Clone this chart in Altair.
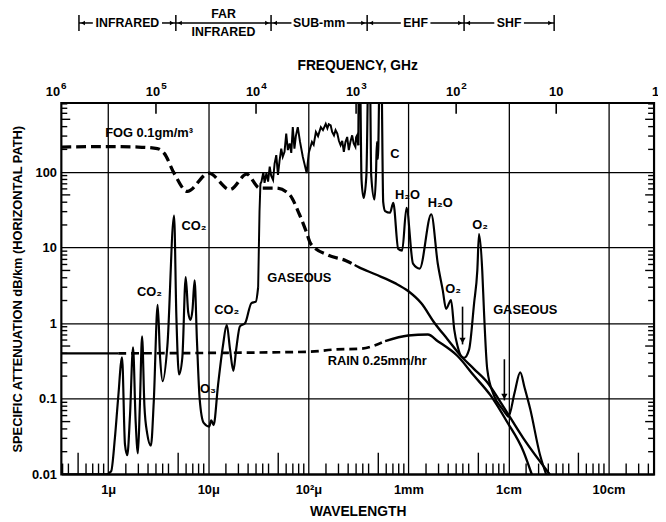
import json
import altair as alt
import pandas as pd

W, H = 600, 376
FONT = "Liberation Sans"

# ---------------- data (wavelength in micrometres, attenuation in dB/km) ----------------
# gaseous: infrared part (smooth peaks)
gas1_lam = [0.34, 0.95, 1.07, 1.165, 1.255, 1.375, 1.47, 1.55, 1.65, 1.77, 1.88, 1.98, 2.07, 2.18,
            2.3, 2.45, 2.67, 2.85, 3.12, 3.3, 3.5, 3.9, 4.55, 4.8, 5.1, 5.5, 5.95, 6.3, 6.65, 6.95,
            7.3, 7.7, 8.2, 9.0, 10.2, 10.7, 11.3, 12.5, 14.0, 15.3, 16.5, 17.8, 19.0, 20.7, 23.3,
            27.0, 29.9, 31.5]
gas1_val = [0.01, 0.01, 0.011, 0.03, 0.1, 0.355, 0.025, 0.018, 0.06, 0.48, 0.05, 0.019, 0.08, 0.67,
            0.08, 0.035, 0.024, 0.09, 1.75, 0.35, 0.171, 0.5, 26.6, 1.2, 0.21, 0.35, 4.1, 1.4, 1.11, 1.5,
            3.7, 0.6, 0.1, 0.048, 0.043, 0.052, 0.045, 0.15, 0.5, 0.95, 0.45, 0.235, 0.45, 0.91, 1.0,
            1.85, 1.93, 3.0]
# gaseous: far-infrared / sub-mm band of dense lines (jagged)
gas2_lam = [31.5, 32.5, 33.2, 34.0, 35.5, 36.5, 38.1, 39.6, 41.1, 42.5, 44.4, 46.0, 47.8, 49.7,
            51.5, 53.6, 55.5, 57.8, 60.1, 62.4, 65.0, 67.5, 69.9, 72.6, 75.0, 78.4, 82.6, 88.0,
            96.2, 101, 108.6, 113, 118.9, 125, 133.3, 140, 149.2, 155, 160, 167.2, 173, 180.3,
            187, 194.8, 202, 210, 218, 226.3, 235, 244.5, 253.6, 263, 274, 284, 295.3, 300,
            306.9, 312, 316]
gas2_val = [3.0, 30, 70, 75, 100, 72, 97, 75, 118, 90, 79, 130, 168, 92,
            140, 205, 160, 186, 323, 196, 240, 180, 394, 205, 300, 394, 251, 160,
            97, 180, 251, 230, 340, 300, 394, 360, 436, 380, 430, 415, 340, 307,
            360, 323, 260, 227, 260, 186, 250, 292, 196, 250, 307, 240, 216, 290,
            307, 250, 227]
# gaseous: mm / cm waves (rounded lines)
gas3_lam = [316, 319.5, 327, 340, 357, 380, 400, 411, 425, 458, 475, 484, 496, 518, 535, 560, 585,
            655, 706, 791, 866, 957, 1112, 1296, 1691, 1966, 2203, 2379, 2666, 2872, 3097, 3393,
            3607, 4045, 4532, 4883, 5075, 5468, 5684, 6133, 7146, 8630, 9665, 10000, 11500, 13110,
            14500, 16450, 20650, 23800]
gas3_val = [227, 3000, 3000, 80, 45.6, 90, 3000, 3000, 90, 43.4, 100, 250, 150, 3000, 3000, 40, 30.5,
            29, 39.2, 9.64, 9.16, 33.7, 6.14, 5.28, 27.7, 6.14, 2.75, 1.55, 2.03, 0.824, 0.499, 0.362,
            0.35, 0.452, 1.84, 5.02, 15.1, 5.0, 1.5, 0.248, 0.111, 0.0744, 0.0606, 0.058, 0.12, 0.224,
            0.14, 0.0744, 0.0182, 0.01]

fog_dash_lam = [0.34, 1.0, 2.0, 3.1, 3.63, 4.55, 6.17, 10.1, 16.5, 24.2, 32.7, 47.8, 64.8, 81.3,
                94.7, 106, 161, 235, 290]
fog_dash_val = [215, 218, 215, 205, 177, 97, 55.7, 96.8, 58.7, 93.9, 61.6, 61.6, 50.5, 27.7,
                16.7, 11.2, 7.88, 6.78, 5.9]
fog_solid_lam = [290, 318, 466, 734, 993, 1346, 1824, 2467, 3350, 4532, 6133, 8318, 14100, 25900]
fog_solid_val = [5.9, 5.54, 4.45, 3.4, 2.67, 1.84, 1.01, 0.611, 0.369, 0.248, 0.166, 0.0907, 0.03, 0.01]

rain_s1_lam = [0.34, 1.26]
rain_s1_val = [0.40, 0.40]
rain_dash_lam = [1.26, 10, 100, 188, 331, 585]
rain_dash_val = [0.40, 0.405, 0.42, 0.45, 0.46, 0.58]
rain_s2_lam = [585, 993, 1565, 1966, 3097, 4532, 6622, 9665, 14100, 17100]
rain_s2_val = [0.58, 0.688, 0.71, 0.58, 0.369, 0.202, 0.111, 0.0498, 0.0202, 0.01]

label_text = ["FOG 0.1gm/m³", "C", "H₂O", "H₂O", "O₂", "O₂", "GASEOUS", "GASEOUS",
              "CO₂", "CO₂", "CO₂", "O₃", "RAIN 0.25mm/hr"]
label_lam = [0.934, 734, 979, 2075, 5193, 2790, 81.3, 14700, 7.19, 2.58, 15.3, 9.9, 488]
label_val = [330, 176, 49.4, 39.2, 20, 2.81, 3.91, 1.51, 19.4, 2.61, 1.51, 0.1355, 0.318]
label_align = ["left"] + ["center"] * 12

arrow_lam = [3475, 9100]
arrow_top = [1.66, 0.334]
arrow_tip = [0.525, 0.0953]

freq_ghz = [1e6, 1e5, 1e4, 1e3, 1e2, 10, 1]
freq_base = ["10", "10", "10", "10", "10", "10", "1"]
freq_exp = ["6", "5", "4", "3", "2", "", ""]

wl_ticks = [1, 10, 100, 1000, 1e4, 1e5]
wl_labels = ["1μ", "10μ", "10²μ", "1mm", "1cm", "10cm"]
y_ticks = [0.01, 0.1, 1, 10, 100]

band_names = ["INFRARED", "FAR", "SUB-mm", "EHF", "SHF"]
band_edges = [0.51, 4.74, 42.4, 387, 3600, 28600]
band_halfwidth = [33, 0, 26, 13, 13]

# ---------------- frames ----------------
gas_smooth = pd.concat([
    pd.DataFrame({"lam": gas1_lam, "val": gas1_val, "seg": "ir"}),
    pd.DataFrame({"lam": gas3_lam, "val": gas3_val, "seg": "mm"}),
], ignore_index=True)
gas_jag = pd.DataFrame({"lam": gas2_lam, "val": gas2_val, "seg": "sub"})
fog_d = pd.DataFrame({"lam": fog_dash_lam, "val": fog_dash_val, "seg": "fog"})
rain_d = pd.DataFrame({"lam": rain_dash_lam, "val": rain_dash_val, "seg": "rain"})
solid_df = pd.concat([
    pd.DataFrame({"lam": fog_solid_lam, "val": fog_solid_val, "seg": "fog"}),
    pd.DataFrame({"lam": rain_s1_lam, "val": rain_s1_val, "seg": "rain1"}),
    pd.DataFrame({"lam": rain_s2_lam, "val": rain_s2_val, "seg": "rain2"}),
], ignore_index=True)

lab_df = pd.DataFrame({"t": label_text, "lam": label_lam, "val": label_val, "al": label_align})
arr_df = pd.DataFrame({"lam": arrow_lam, "top": arrow_top, "tip": arrow_tip})
freq_df = pd.DataFrame({"lam": [3e5 / f for f in freq_ghz], "b": freq_base, "e": freq_exp})

mult = [1.5, 2, 2.5, 3, 3.5, 4, 5, 6, 7, 8, 9]
xminor = []
for d in [0.1, 1, 10, 100, 1000, 1e4, 1e5]:
    for m in mult:
        v = d * m
        if 0.34 < v < 2.85e5:
            xminor.append({"lam": v, "long": m == 5})
xminor_df = pd.DataFrame(xminor)

yminor = []
for d in [0.01, 0.1, 1, 10, 100]:
    for m in range(2, 10):
        v = d * m
        if v < 822:
            yminor.append({"val": v, "long": m == 5})
yminor_df = pd.DataFrame(yminor)

xs = alt.Scale(type="log", domain=[0.34, 2.85e5])
ys = alt.Scale(type="log", domain=[0.01, 822])

lab_map = {str(int(v)): t for v, t in zip(wl_ticks, wl_labels)}
x_axis = alt.Axis(values=wl_ticks, labelExpr=json.dumps(lab_map) + "[datum.value]", grid=True,
                  ticks=False, domain=False, labelPadding=9, title="WAVELENGTH",
                  titlePadding=9, labelFontSize=13, titleFontSize=14)
y_axis = alt.Axis(values=y_ticks, format="~g", grid=True, ticks=False, domain=False,
                  labelPadding=5, title="SPECIFIC ATTENUATION dB/km (HORIZONTAL PATH)",
                  titlePadding=7, labelFontSize=13, titleFontSize=13)


def X(field="lam"):
    return alt.X(f"{field}:Q", scale=xs, axis=x_axis, title="WAVELENGTH")


def Y(field="val"):
    return alt.Y(f"{field}:Q", scale=ys, axis=y_axis,
                 title="SPECIFIC ATTENUATION dB/km (HORIZONTAL PATH)")


layers = []

layers.append(alt.Chart(gas_smooth).mark_line(color="black", strokeWidth=2.2, clip=True,
                                              interpolate="monotone").encode(
    x=X(), y=Y(), detail="seg:N"))
layers.append(alt.Chart(gas_jag).mark_line(color="black", strokeWidth=2.0, clip=True,
                                           interpolate="linear").encode(x=X(), y=Y()))
layers.append(alt.Chart(fog_d).mark_line(
    color="black", strokeWidth=3.3, strokeDash=[10, 5], interpolate="monotone", clip=True).encode(
    x=X(), y=Y(), detail="seg:N"))
layers.append(alt.Chart(rain_d).mark_line(
    color="black", strokeWidth=2.7, strokeDash=[8, 5], interpolate="monotone", clip=True).encode(
    x=X(), y=Y(), detail="seg:N"))
layers.append(alt.Chart(solid_df).mark_line(
    color="black", strokeWidth=2.4, interpolate="monotone", clip=True).encode(
    x=X(), y=Y(), detail="seg:N"))

# minor ticks, bottom (pointing up)
layers.append(alt.Chart(xminor_df).transform_filter("!datum.long").mark_rule(
    color="black", strokeWidth=1.4).encode(x=X(), y=alt.value(H), y2=alt.value(H - 11)))
layers.append(alt.Chart(xminor_df).transform_filter("datum.long").mark_rule(
    color="black", strokeWidth=1.4).encode(x=X(), y=alt.value(H), y2=alt.value(H - 22)))
# minor ticks, left & right
for lng, ln in [(False, 6), (True, 9)]:
    f = "datum.long" if lng else "!datum.long"
    layers.append(alt.Chart(yminor_df).transform_filter(f).mark_rule(
        color="black", strokeWidth=1.4).encode(y=Y(), x=alt.value(0), x2=alt.value(ln)))
    layers.append(alt.Chart(yminor_df).transform_filter(f).mark_rule(
        color="black", strokeWidth=1.4).encode(y=Y(), x=alt.value(W), x2=alt.value(W - ln)))

# top frequency ticks + labels (base and superscript)
layers.append(alt.Chart(freq_df).mark_rule(color="black", strokeWidth=1.6, clip=True).encode(
    x=X(), y=alt.value(0), y2=alt.value(11)))
layers.append(alt.Chart(freq_df).transform_filter("datum.e != ''").mark_text(
    fontSize=13, baseline="middle", dx=-3).encode(x=X(), y=alt.value(-11), text="b:N"))
layers.append(alt.Chart(freq_df).transform_filter("datum.e != ''").mark_text(
    fontSize=10, baseline="middle", dx=8).encode(x=X(), y=alt.value(-17), text="e:N"))
layers.append(alt.Chart(freq_df).transform_filter("datum.e == '' && datum.lam < 2.8e5").mark_text(
    fontSize=13, baseline="middle").encode(x=X(), y=alt.value(-11), text="b:N"))
layers.append(alt.Chart(freq_df).transform_filter("datum.lam > 2.8e5").mark_text(
    fontSize=13, baseline="middle", align="right", dx=3).encode(x=X(), y=alt.value(-11), text="b:N"))
layers.append(alt.Chart(pd.DataFrame({"t": ["FREQUENCY, GHz"]})).mark_text(
    fontSize=14, baseline="middle").encode(x=alt.value(W / 2), y=alt.value(-37), text="t:N"))

# curve labels
for al in ["left", "center"]:
    layers.append(alt.Chart(lab_df).transform_filter(f"datum.al == '{al}'").mark_text(
        fontSize=13, align=al, baseline="middle").encode(x=X(), y=Y(), text="t:N"))

# down arrows
layers.append(alt.Chart(arr_df).mark_rule(color="black", strokeWidth=1.6).encode(
    x=X(), y=Y("top"), y2="tip:Q"))
layers.append(alt.Chart(arr_df).mark_point(shape="triangle-down", filled=True, color="black",
                                           size=40, opacity=1, yOffset=-4).encode(x=X(), y=Y("tip")))

# band annotations on top
ROW, TOPB, BOTB = -81, -90, -72
edges_df = pd.DataFrame({"lam": band_edges})
layers.append(alt.Chart(edges_df).mark_rule(color="black", strokeWidth=1.5).encode(
    x=X(), y=alt.value(TOPB + 1), y2=alt.value(BOTB - 1)))
for i, name in enumerate(band_names):
    lo, hi = band_edges[i], band_edges[i + 1]
    mid = (lo * hi) ** 0.5
    hw = band_halfwidth[i]
    seg_df = pd.DataFrame({"lam": [lo, mid], "b": [mid, hi]})
    if hw == 0:
        layers.append(alt.Chart(pd.DataFrame({"lam": [lo], "b": [hi]})).mark_rule(
            color="black", strokeWidth=1.5).encode(x=X(), x2="b:Q", y=alt.value(ROW)))
        layers.append(alt.Chart(pd.DataFrame({"lam": [mid], "t": ["FAR"]})).mark_text(
            fontSize=12.5, baseline="middle").encode(x=X(), y=alt.value(TOPB), text="t:N"))
        layers.append(alt.Chart(pd.DataFrame({"lam": [mid], "t": ["INFRARED"]})).mark_text(
            fontSize=12.5, baseline="middle").encode(x=X(), y=alt.value(BOTB), text="t:N"))
    else:
        layers.append(alt.Chart(seg_df.iloc[[0]]).mark_rule(
            color="black", strokeWidth=1.5, x2Offset=-(hw + 2)).encode(
            x=X(), x2="b:Q", y=alt.value(ROW)))
        layers.append(alt.Chart(seg_df.iloc[[1]]).mark_rule(
            color="black", strokeWidth=1.5, xOffset=hw + 2).encode(
            x=X(), x2="b:Q", y=alt.value(ROW)))
        layers.append(alt.Chart(pd.DataFrame({"lam": [mid], "t": [name]})).mark_text(
            fontSize=12.5, baseline="middle").encode(x=X(), y=alt.value(ROW), text="t:N"))
    layers.append(alt.Chart(pd.DataFrame({"lam": [lo]})).mark_point(
        shape="triangle-left", filled=True, color="black", size=22, opacity=1, xOffset=4).encode(
        x=X(), y=alt.value(ROW)))
    layers.append(alt.Chart(pd.DataFrame({"lam": [hi]})).mark_point(
        shape="triangle-right", filled=True, color="black", size=22, opacity=1, xOffset=-4).encode(
        x=X(), y=alt.value(ROW)))

chart = alt.layer(*layers).properties(
    width=W, height=H,
    padding={"left": 54, "top": 93, "right": 4, "bottom": 45},
    autosize=alt.AutoSizeParams(type="none"),
    background="white",
).configure_view(stroke="black", strokeWidth=2.2).configure_axis(
    labelFont=FONT, titleFont=FONT, labelFontWeight="bold", titleFontWeight="bold",
    labelColor="black", titleColor="black", gridColor="black", gridWidth=1.3, gridOpacity=1,
).configure_text(font=FONT, fontWeight="bold", color="black")

chart.save("out.html", embed_options={"renderer": "svg", "actions": False})
